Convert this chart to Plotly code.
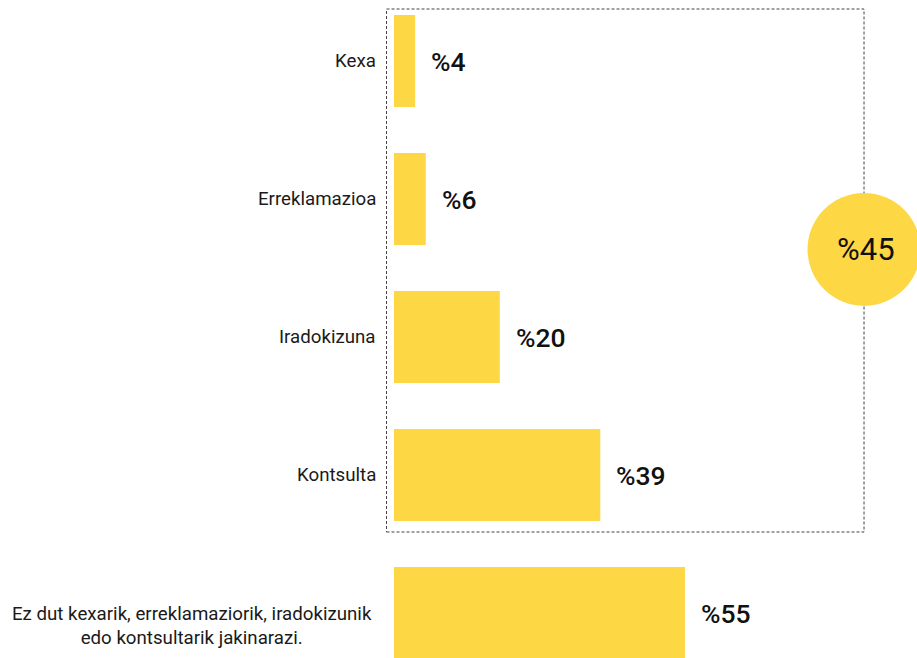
import plotly.graph_objects as go

categories = [
    "Kexa",
    "Erreklamazioa",
    "Iradokizuna",
    "Kontsulta",
    "Ez dut kexarik, erreklamaziorik, iradokizunik<br>edo kontsultarik jakinarazi.",
]
values = [4, 6, 20, 39, 55]
value_labels = ["%4", "%6", "%20", "%39", "%55"]
highlight_label = "%45"

BAR = "#FDD744"
TXT = "#1a1a1a"
FONT = "Roboto, 'Open Sans', sans-serif"

fig = go.Figure(
    go.Bar(
        x=values,
        y=categories,
        orientation="h",
        marker=dict(color=BAR, line=dict(width=0)),
        width=0.667,
        hoverinfo="skip",
    )
)

annotations = []
for c, v, t in zip(categories, values, value_labels):
    annotations.append(dict(
        x=v, y=c, xref="x", yref="y", text=t, showarrow=False,
        xanchor="left", yanchor="middle", xshift=14,
        font=dict(family=FONT, size=26.5, color="#111111", weight=500),
    ))
    long = "<br>" in c
    annotations.append(dict(
        x=0, y=c, xref="x", yref="y", text=c, showarrow=False,
        xanchor="right", yanchor="middle", xshift=-20 if long else -16,
        yshift=-13 if long else 0,
        align="center",
        font=dict(family=FONT, size=18.7, color=TXT),
    ))

CX, CY = 0.8987, 0.621
annotations.append(dict(
    x=CX, y=CY, xref="paper", yref="paper", text=highlight_label,
    showarrow=False, xanchor="center", yanchor="middle", xshift=2,
    font=dict(family=FONT, size=31, color="#111111"),
))

shapes = [
    dict(type="rect", xref="paper", yref="paper",
         x0=-0.01434, x1=CX, y0=0.1915, y1=0.9863,
         line=dict(color="#444444", width=1, dash="3px,2px"),
         fillcolor="rgba(0,0,0,0)", layer="above"),
    dict(type="circle", xref="paper", yref="paper",
         xsizemode="pixel", ysizemode="pixel",
         xanchor=CX, yanchor=CY,
         x0=-56.5, x1=56.5, y0=-56.5, y1=56.5,
         fillcolor=BAR, line=dict(width=0), layer="above"),
]

fig.update_layout(
    width=917, height=658,
    margin=dict(l=394, r=0, t=0, b=0),
    paper_bgcolor="white", plot_bgcolor="white",
    showlegend=False,
    xaxis=dict(range=[0, 98.87], visible=False, fixedrange=True),
    yaxis=dict(range=[4.326, -0.442], showticklabels=False, showgrid=False,
               zeroline=False, showline=False, ticks="", fixedrange=True),
    annotations=annotations,
    shapes=shapes,
    font=dict(family=FONT),
)

fig.write_html(
    "out.html",
    config={"displayModeBar": False},
    post_script="document.body.style.margin='0';document.body.style.overflow='hidden';",
)
